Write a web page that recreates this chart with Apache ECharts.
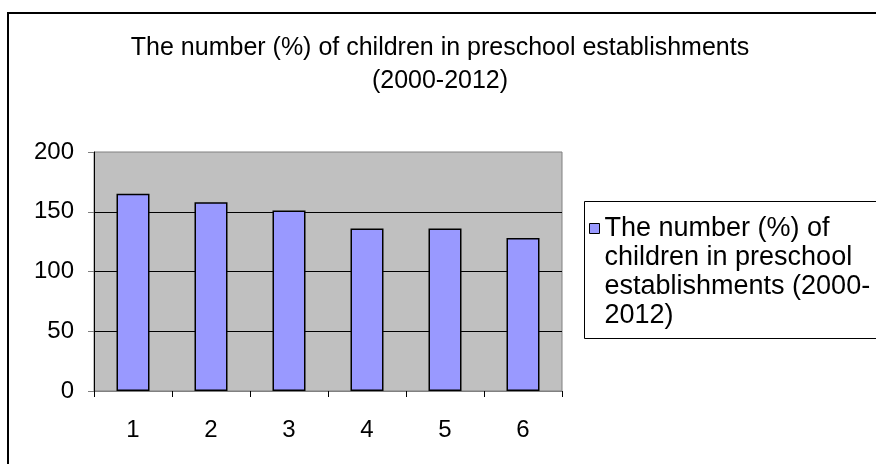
<!DOCTYPE html>
<html>
<head>
<meta charset="utf-8">
<script src="https://cdn.jsdelivr.net/npm/echarts@6/dist/echarts.min.js"></script>
<style>
  html, body { margin: 0; padding: 0; background: #fff; }
  #chart { width: 876px; height: 464px; }
</style>
</head>
<body>
<div id="chart"></div>
<script>
// Share of children attending preschool establishments, 2000-2012
const categories = ['1', '2', '3', '4', '5', '6'];
const values = [165, 158, 151, 136, 136, 128];
const seriesName = 'The number (%) of children in preschool establishments (2000-2012)';
const legendLines = ['The number (%) of', 'children in preschool', 'establishments (2000-', '2012)'];
const titleLines = ['The number (%) of children in preschool establishments', '(2000-2012)'];
const yTicks = { min: 0, max: 200, interval: 50 };

const FONT = 'Liberation Sans, Arial, sans-serif';
const chart = echarts.init(document.getElementById('chart'), null, { renderer: 'canvas' });

// The legend text block is centred on its marker; three leading blank lines
// put the marker beside the first written line instead.
const legendText = ['', '', ''].concat(legendLines).join('\n');

chart.setOption({
  backgroundColor: '#ffffff',
  animation: false,
  textStyle: { fontFamily: FONT, color: '#000' },
  title: {
    text: titleLines.join('\n'),
    left: 440,
    top: 32,
    padding: 0,
    textAlign: 'center',
    textStyle: { fontFamily: FONT, fontSize: 25, fontWeight: 'normal', color: '#000', lineHeight: 33, align: 'center' }
  },
  graphic: [
    { type: 'rect', z: -10, shape: { x: 8, y: 13, width: 900, height: 500 },
      style: { fill: 'none', stroke: '#000', lineWidth: 2 } },
    { type: 'rect', z: 0, shape: { x: 584.5, y: 201.5, width: 320, height: 137 },
      style: { fill: '#fff', stroke: '#000', lineWidth: 1 } }
  ],
  legend: {
    left: 589,
    top: 127,
    padding: 0,
    z: 5,
    icon: 'rect',
    itemWidth: 10,
    itemHeight: 10,
    itemGap: 0,
    itemStyle: { borderColor: '#000', borderWidth: 1 },
    formatter: () => legendText,
    textStyle: { fontFamily: FONT, fontSize: 27, color: '#000', lineHeight: 29 },
    data: [seriesName]
  },
  grid: {
    left: 94, top: 152, right: 314, bottom: 73,
    show: true, backgroundColor: '#c0c0c0', borderColor: '#808080', borderWidth: 1,
    containLabel: false
  },
  xAxis: {
    type: 'category',
    data: categories,
    boundaryGap: true,
    axisLine: { lineStyle: { color: '#808080', width: 1 } },
    axisTick: { show: true, alignWithLabel: false, length: 6, lineStyle: { color: '#000' } },
    axisLabel: { fontFamily: FONT, fontSize: 24, color: '#000', margin: 27 }
  },
  yAxis: {
    type: 'value',
    min: yTicks.min, max: yTicks.max, interval: yTicks.interval,
    axisLine: { show: true, lineStyle: { color: '#000', width: 1 } },
    axisTick: { show: true, length: 6, lineStyle: { color: '#808080' } },
    axisLabel: { fontFamily: FONT, fontSize: 24, color: '#000', margin: 20 },
    splitLine: { show: true, showMinLine: false, showMaxLine: false, lineStyle: { color: '#000', width: 1 } }
  },
  series: [{
    name: seriesName,
    type: 'bar',
    data: values,
    barWidth: 33,
    itemStyle: { color: '#9999ff', borderColor: '#000', borderWidth: 1.5 }
  }]
});
</script>
</body>
</html>
